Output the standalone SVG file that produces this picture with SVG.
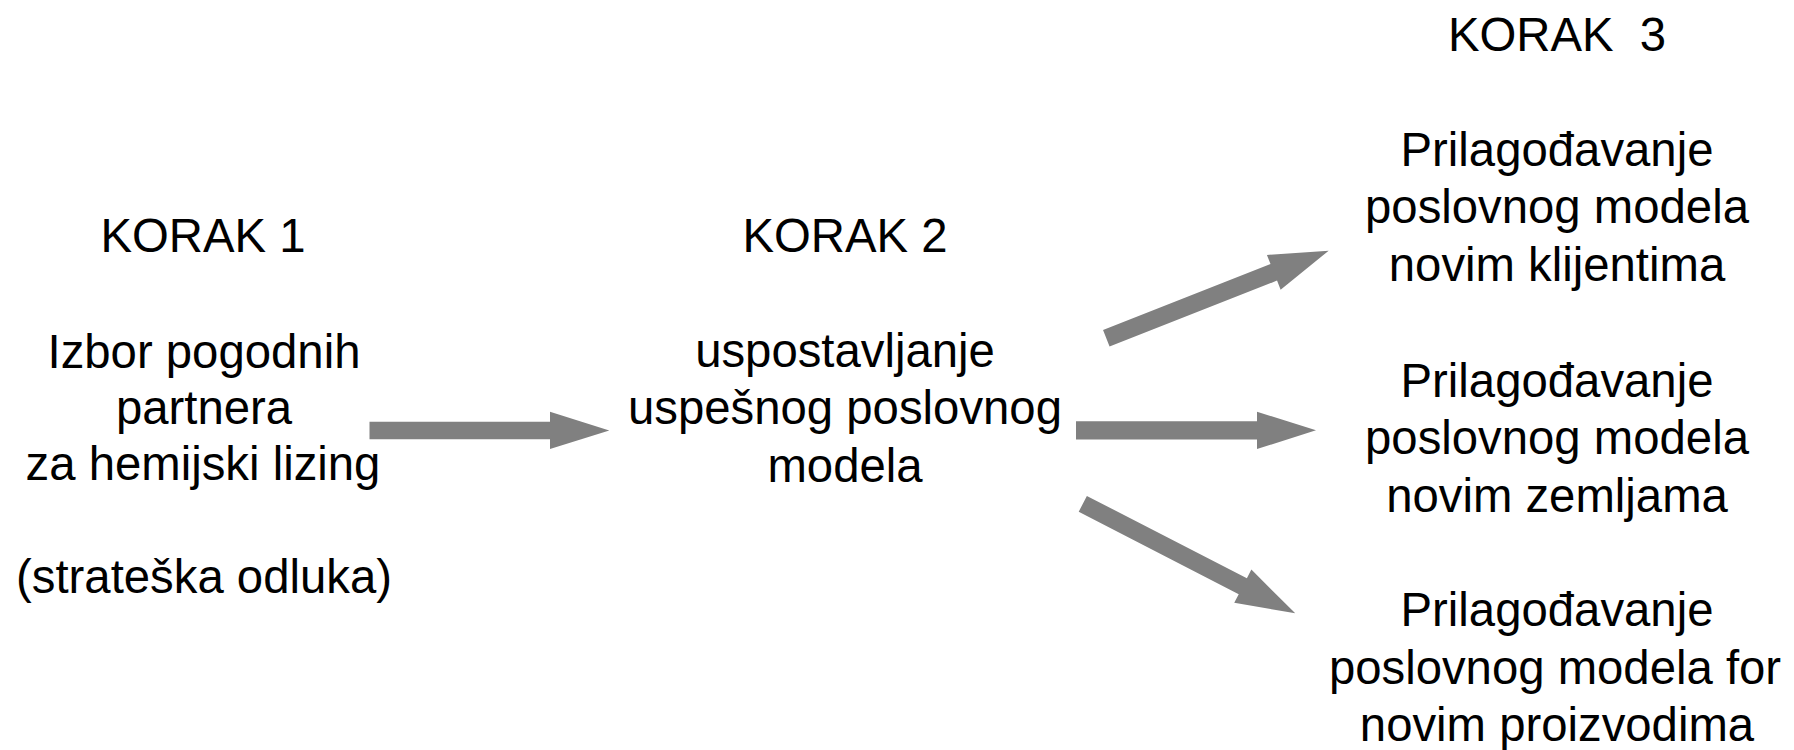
<svg xmlns="http://www.w3.org/2000/svg" width="1794" height="750" viewBox="0 0 1794 750">
  <style>
    .lbl { font-family: "Liberation Sans", Arial, sans-serif; font-size: 47.3px; fill: #000; text-anchor: middle; }
    .arrow { fill: #808080; stroke: none; }
  </style>
  <rect width="1794" height="750" fill="#ffffff"/>

  <!-- Step 1 -->
  <g id="step1">
    <text class="lbl" x="203" y="252">KORAK 1</text>
    <text class="lbl" x="204" y="368">Izbor pogodnih</text>
    <text class="lbl" x="204" y="424">partnera</text>
    <text class="lbl" x="203" y="480">za hemijski lizing</text>
    <text class="lbl" x="204" y="593">(strateška odluka)</text>
  </g>

  <!-- Step 2 -->
  <g id="step2">
    <text class="lbl" x="845" y="252">KORAK 2</text>
    <text class="lbl" x="845" y="367">uspostavljanje</text>
    <text class="lbl" x="845" y="424">uspešnog poslovnog</text>
    <text class="lbl" x="845" y="482">modela</text>
  </g>

  <!-- Step 3 heading -->
  <g id="step3">
    <text class="lbl" x="1557" y="51" xml:space="preserve">KORAK  3</text>
  </g>

  <!-- Step 3 options -->
  <g id="opt-clients">
    <text class="lbl" x="1557" y="166">Prilagođavanje</text>
    <text class="lbl" x="1557" y="223">poslovnog modela</text>
    <text class="lbl" x="1557" y="281">novim klijentima</text>
  </g>
  <g id="opt-countries">
    <text class="lbl" x="1557" y="397">Prilagođavanje</text>
    <text class="lbl" x="1557" y="454">poslovnog modela</text>
    <text class="lbl" x="1557" y="512">novim zemljama</text>
  </g>
  <g id="opt-products">
    <text class="lbl" x="1557" y="626">Prilagođavanje</text>
    <text class="lbl" x="1555" y="684">poslovnog modela for</text>
    <text class="lbl" x="1557" y="741">novim proizvodima</text>
  </g>

  <!-- Block arrows between steps -->
  <g id="connectors">
    <polygon class="arrow" points="369.5,421.7 550,421.7 550,411.7 609.3,430.6 550,449 550,439.3 369.5,439.3"/>
    <polygon class="arrow" transform="translate(1106.3,338.3) rotate(-21.5)" points="0,-8.9 180,-8.9 180,-18.7 239,0 180,18.7 180,8.9 0,8.9"/>
    <polygon class="arrow" points="1076,421.2 1257,421.2 1257,411.7 1316,430.3 1257,449 1257,439.4 1076,439.4"/>
    <polygon class="arrow" transform="translate(1082.8,503.8) rotate(27.26)" points="0,-8.9 180,-8.9 180,-18.7 239,0 180,18.7 180,8.9 0,8.9"/>
  </g>
</svg>
